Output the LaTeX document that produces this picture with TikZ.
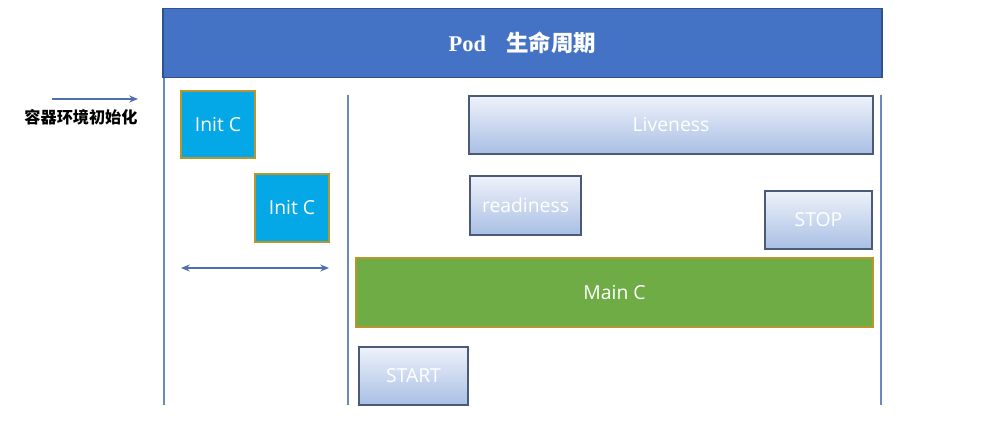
\documentclass[tikz,border=0pt]{standalone}
\usepackage{fontspec}
\setmainfont{Open Sans}
\newfontfamily\cjk{Noto Sans CJK SC}
\newfontfamily\titleserif{Liberation Serif}
\usetikzlibrary{arrows.meta}
\definecolor{titleblue}{HTML}{4472C4}
\definecolor{titleborder}{HTML}{2F528F}
\definecolor{initfill}{HTML}{05A8E6}
\definecolor{goldborder}{HTML}{B8962E}
\definecolor{maingreen}{HTML}{6FAC46}
\definecolor{gradtop}{HTML}{EEF2FA}
\definecolor{gradbot}{HTML}{A9BFE4}
\definecolor{gradborder}{HTML}{4A5A78}
\definecolor{linecol}{HTML}{6A88BC}
\definecolor{arrowcol}{HTML}{4F6FB0}
\tikzset{
  base/.style={rectangle, inner sep=0pt, text=white, font=\fontsize{11}{13}\selectfont},
  initbox/.style={base, fill=initfill, draw=goldborder, line width=0.6pt},
  probebox/.style={base, top color=gradtop, bottom color=gradbot, draw=gradborder, line width=0.7pt, text=white},
  mainbox/.style={base, fill=maingreen, draw=goldborder, line width=0.8pt},
  titlebox/.style={base, fill=titleblue, draw=titleborder, line width=0.8pt},
  vline/.style={draw=linecol, line width=0.7pt},
  arr/.style={draw=arrowcol, line width=0.7pt}
}
\begin{document}
\begin{tikzpicture}[x=0.02cm, y=-0.02cm]
\useasboundingbox (0,0) rectangle (1001,425);
% title
\node[titlebox, minimum width=14.38cm, minimum height=1.38cm] (title) at (522.5,43)
  {\bfseries\titleserif\fontsize{12.8}{15}\selectfont Pod\hspace{0.9em}\cjk 生命周期};
% vertical lines
\coordinate (l1t) at (164,78);  \coordinate (l1b) at (164,405);
\coordinate (l2t) at (348,95);  \coordinate (l2b) at (348,405);
\coordinate (l3t) at (881,95);  \coordinate (l3b) at (881,405);
\draw[vline] (l1t) -- (l1b);
\draw[vline] (l2t) -- (l2b);
\draw[vline] (l3t) -- (l3b);
% left label and arrow
\node[font=\cjk\bfseries\fontsize{9.2}{11}\selectfont, text=black] (envlabel) at (81,117) {容器环境初始化};
\coordinate (ea) at (52,99); \coordinate (eb) at (138,99);
\draw[arr, -{Stealth[length=5pt,width=4pt]}] (ea) -- (eb);
% init containers
\node[initbox, minimum width=1.48cm, minimum height=1.34cm] (init1) at (218,124.5) {Init C};
\node[initbox, minimum width=1.48cm, minimum height=1.36cm] (init2) at (292,208) {Init C};
\coordinate (da) at (181,268); \coordinate (db) at (329,268);
\draw[arr, {Stealth[length=5pt,width=4pt]}-{Stealth[length=5pt,width=4pt]}] (da) -- (db);
% probes
\node[probebox, minimum width=8.08cm, minimum height=1.16cm] (live) at (671,125) {Liveness};
\node[probebox, minimum width=2.22cm, minimum height=1.18cm] (ready) at (525.5,205.5) {readiness};
\node[probebox, minimum width=2.14cm, minimum height=1.16cm] (stop) at (818.5,220) {STOP};
\node[mainbox, minimum width=10.34cm, minimum height=1.38cm] (main) at (614.5,292.5) {Main C};
\node[probebox, minimum width=2.18cm, minimum height=1.16cm] (start) at (413.5,376) {START};
\end{tikzpicture}
\end{document}
